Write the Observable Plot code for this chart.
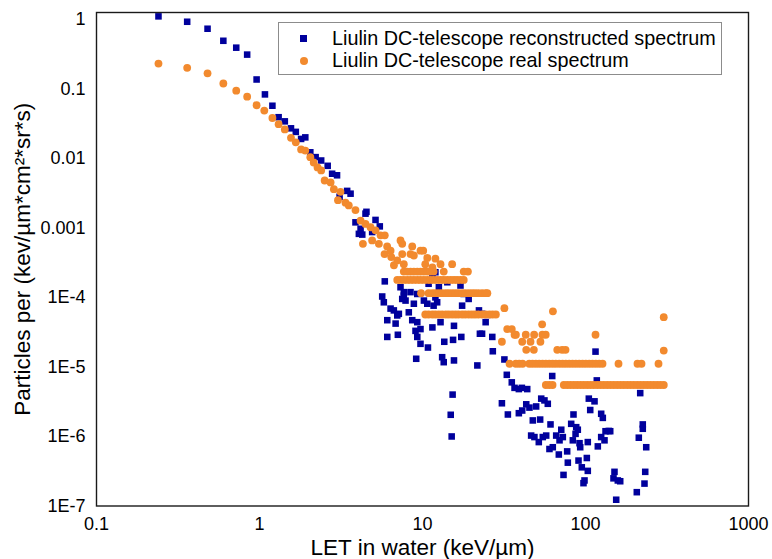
<!DOCTYPE html>
<html><head><meta charset="utf-8">
<script src="https://cdn.jsdelivr.net/npm/d3@7"></script>
<script src="https://cdn.jsdelivr.net/npm/@observablehq/plot@0.6"></script>
<style>
body{margin:0;background:#fff;font-family:"Liberation Sans",Arial,sans-serif;}
#wrap{position:relative;width:772px;height:559px;}
#legend{position:absolute;left:278px;top:22px;width:444px;height:53px;border:1px solid #8c8c8c;background:#fff;box-sizing:border-box;}
.item{position:absolute;left:53px;font-size:19.8px;line-height:22px;color:#000;white-space:nowrap;}
.mk{position:absolute;}
</style>
</head><body>
<div id="wrap"></div>
<script>
// Series names
const seriesNames = ["Liulin DC-telescope reconstructed spectrum", "Liulin DC-telescope real spectrum"];
const seriesColors = ["#00009c", "#f28a2e"];
const xTitle = "LET in water (keV/µm)";
const yTitle = "Particles per (kev/µm*cm²*sr*s)";
const xTicks = [0.1, 1, 10, 100, 1000];
const xTickLabels = ["0.1", "1", "10", "100", "1000"];
const yTicks = [1e-7, 1e-6, 1e-5, 1e-4, 1e-3, 1e-2, 1e-1, 1];
const yTickLabels = ["1E-7", "1E-6", "1E-5", "1E-4", "0.001", "0.01", "0.1", "1"];

// Reconstructed spectrum: [LET keV/µm, flux]
const reconstructed = [
[0.24,1.10],[0.36,0.92],[0.48,0.73],[0.60,0.49],[0.72,0.39],[0.84,0.31],[0.96,0.136],[1.08,0.083],
[1.20,0.057],[1.31,0.039],[1.43,0.034],[1.56,0.027],[1.67,0.024],[1.80,0.019],[1.91,0.020],[2.05,0.0122],
[2.21,0.0104],[2.39,0.0093],[2.62,0.0078],[2.79,0.0060],[2.99,0.0057],[3.10,0.0028],[3.45,0.0034],[3.62,0.0031],
[3.88,0.0012],[4.07,0.00082],[4.17,0.00097],[4.27,0.0008],[4.47,0.0016],[4.53,0.0017],[4.91,0.00087],[5.15,0.0013],[5.47,0.00105],
[5.66,1.03e-4],[5.79,8.5e-5],[5.87,1.7e-4],[6.08,4.7e-5],[6.08,2.7e-5],[6.37,6.9e-5],[6.67,6.5e-5],[6.84,4.2e-5],
[7.0,5.5e-5],[7.06,2.9e-5],[7.16,5.8e-5],[7.33,1.4e-4],[7.51,9.5e-5],[7.68,1.19e-4],[7.68,1.06e-4],[7.87,9.0e-5],
[8.24,6.1e-5],[8.44,1.19e-4],[8.65,4.7e-5],[8.85,8.1e-5],[9.06,3.3e-5],[9.15,1.31e-5],[9.29,1.12e-4],[9.29,4.4e-5],
[9.29,2.7e-5],[9.72,3.5e-5],[9.72,2.15e-5],[10.2,9.0e-5],[10.7,8.1e-5],[10.8,1.9e-5],[10.9,1.57e-4],[11.5,1.95e-4],
[11.5,3.7e-5],[11.7,7.6e-5],[12.0,2.3e-4],[12.0,1.0e-4],[12.3,8.5e-5],[12.6,1.4e-4],[12.9,4.4e-5],[13.2,1.38e-5],
[13.5,1.17e-5],[13.6,2.3e-5],[14.2,1.65e-4],[14.9,2.05e-6],[15.1,1.0e-6],[15.3,4.0e-6],[15.4,2.45e-5],[15.6,3.9e-5],
[15.6,1.24e-5],[17.1,1.48e-4],[17.3,2.7e-5],[17.5,7.6e-5],[17.9,1.12e-4],[19.2,9.5e-5],[21.7,1.05e-5],[22.2,6.5e-5],
[22.5,3.0e-5],[23.2,5.8e-5],[23.2,3.0e-5],[24.4,4.4e-5],[25.0,5.6e-5],[26.1,5.7e-5],[26.8,2.7e-5],[27.0,1.68e-5],
[30.7,3.0e-6],[31.8,1.28e-5],[32.9,7.7e-6],[33.4,2.07e-6],[35.3,6.0e-6],[36.7,5.0e-6],[39.0,4.8e-6],[39.0,2.16e-6],
[40.7,5.0e-6],[40.9,2.36e-6],[43.3,2.9e-6],[43.9,4.8e-6],[45.3,2.6e-6],[46.4,1.03e-6],[47.5,1.7e-6],[48.6,9.8e-7],
[49.8,2.7e-6],[51.7,8.3e-7],[52.7,1.75e-6],[53.5,3.5e-6],[54.7,9.8e-7],[56.0,3.3e-6],[57.4,1.03e-6],[58.7,2.95e-6],
[60.1,6.6e-7],[61.0,1.49e-6],[62.5,7.4e-6],[63.0,7.0e-7],[66.1,1.03e-6],[68.6,5.5e-7],[69.3,8.8e-7],[71.0,1.25e-6],
[72.6,9.8e-7],[73.3,2.8e-7],[77.2,6.1e-7],[77.9,4.2e-7],[81.7,1.52e-6],[83.6,8.8e-7],[84.4,2.07e-6],[86.9,1.09e-6],
[87.7,1.36e-6],[89.7,1.25e-6],[90.6,4.5e-7],[91.9,8.0e-7],[92.8,7.0e-7],[94.9,3.6e-7],[97.2,2.13e-7],[98.6,2.33e-7],
[101.9,4.9e-7],[103.3,8.3e-7],[103.3,3.2e-7],[104.8,3.5e-6],[106.9,2.4e-6],[113.6,3.2e-6],[115.2,1.66e-5],[117.3,6.4e-6],
[119.0,7.2e-7],[124.8,2.12e-6],[124.8,9.8e-7],[127.7,1.85e-6],[130.8,8.8e-7],[132.7,1.19e-6],[139,1.2e-6],[141.8,1.19e-6],
[148.5,2.5e-7],[150.6,3.1e-7],[154.3,1.23e-7],[157.8,2.33e-7],[163.3,2.27e-7],[206.4,1.58e-7],[212.3,9.6e-7],[216.6,4.2e-6],
[224.6,1.49e-6],[224.6,1.29e-6],[230.1,2.1e-7],[232.5,3.1e-7],[235.8,7.0e-7]
];

// Real spectrum, scattered points: [LET, flux]
const realPoints = [
[0.24,0.23],[0.36,0.20],[0.48,0.167],[0.60,0.119],[0.72,0.094],[0.84,0.077],[0.96,0.058],[1.07,0.0486],
[1.20,0.038],[1.31,0.031],[1.43,0.026],[1.56,0.0197],[1.67,0.017],[1.80,0.0134],[1.91,0.0129],[2.05,0.0104],
[2.15,0.0087],[2.27,0.0074],[2.39,0.0067],[2.51,0.0048],[2.73,0.0045],[2.86,0.0036],[3.03,0.0025],[3.14,0.0033],
[3.37,0.0023],[3.53,0.0021],[3.88,0.0018],[4.17,0.00127],[4.31,0.00059],[4.47,0.00114],[4.80,0.00102],[4.91,0.00066],
[5.15,0.00092],[5.40,0.00059],[5.53,0.00078],[5.85,0.00042],[5.87,0.00078],[6.07,0.00054],[6.37,0.00047],[6.43,0.00038],
[6.68,0.00029],[7.0,0.00034],[7.33,0.00066],[7.51,0.00059],[7.51,0.00042],[7.68,0.0003],[8.44,0.00042],[8.65,0.00054],
[8.85,0.0004],[9.72,0.00047],[10.1,0.00047],[10.4,0.0003],[10.7,0.00037],[11.5,0.00027],[12.0,0.00036],[12.9,0.0003],
[15.2,0.0003],[9.8,1.15e-4],
[31.8,7.0e-5],[33.1,3.5e-5],[35.3,3.5e-5],[36.7,2.9e-5],[37.4,2.9e-5],[43.0,2.9e-5],[48.4,2.9e-5],[54.4,2.9e-5],
[57.0,2.9e-5],[115.2,2.9e-5],[30.7,2.3e-5],[40.9,2.3e-5],[46.0,2.3e-5],[52.9,2.3e-5],[43.3,1.76e-5],[48.2,1.76e-5],
[67.1,1.76e-5],[71.9,1.76e-5],[75.4,1.76e-5],[54.2,4.1e-5],[63.1,6.3e-5],[302,5.2e-5],[302,1.72e-5]
];

// Real spectrum, quantized rows (same flux level over many LET channels)
const realRowFlux = [2.35e-4, 1.78e-4, 1.15e-4, 5.67e-5, 1.11e-5, 5.5e-6];
const realRowLET = [
[7.68,8.07,8.44,8.85,9.29,9.72,10.2,10.7,11.2,11.7,13.5,17.9,19.0],
[7.0,7.33,7.68,8.07,8.44,8.85,9.29,9.72,10.2,10.7,11.2,11.7,12.3,12.9,13.5,14.2,14.9,15.6,16.3,17.1,17.9],
[10.9,11.5,12.0,12.6,13.2,13.9,14.5,15.2,15.9,16.6,17.5,18.3,19.2,20.1,21.0,22.0,23.2,24.4,25.0],
[10.4,10.9,11.5,12.0,12.6,13.2,13.9,14.5,15.2,15.9,16.6,17.5,18.3,19.2,20.1,21.0,22.0,23.2,24.4,25.7,26.9,28.2],
[34.2,37.4,39.2,41.1,45.2,47.3,49.6,52.0,54.5,57.1,59.9,62.8,65.7,69.0,72.3,75.7,79.4,83.2,87.2,91.5,95.9,100.4,105.4,110.4,115.7,121.4,127.2,159.4,208.4,220.6,280.5],
[57.1,59.9,62.8,73.6,77.2,80.9,84.8,88.9,93.2,97.6,102.4,107.3,112.4,118.0,123.6,129.5,135.9,142.4,149.2,156.5,164.0,171.8,180.3,188.9,197.9,207.6,217.5,228.0,239.1,250.5,262.4,275.4,288.5,302.2]
];

const reconData = reconstructed.map(([let_, flux]) => ({let: let_, flux}));
const realData = realPoints.map(([let_, flux]) => ({let: let_, flux}))
  .concat(realRowLET.flatMap((row, i) => row.map(v => ({let: v, flux: realRowFlux[i]}))));

const xLab = new Map(xTicks.map((t, i) => [t, xTickLabels[i]]));
const yLab = new Map(yTicks.map((t, i) => [t, yTickLabels[i]]));
const font = '"Liberation Sans", Arial, sans-serif';

const chart = Plot.plot({
  width: 772, height: 559,
  marginLeft: 96, marginRight: 24, marginTop: 12, marginBottom: 53.5,
  x: {type: "log", domain: [0.1, 1000], axis: null},
  y: {type: "log", domain: [1e-7, 1.25], axis: null},
  style: {fontFamily: font, background: "white", color: "#000"},
  marks: [
    Plot.axisX(xTicks, {tickSize: 0, tickPadding: 11, tickFormat: d => xLab.get(d), fontSize: 18, label: null}),
    Plot.axisY(yTicks, {tickSize: 0, tickPadding: 11, tickFormat: d => yLab.get(d), fontSize: 18, label: null}),
    Plot.dot(reconData, {x: "let", y: "flux", symbol: "square", r: 3.7, fill: seriesColors[0], stroke: "none"}),
    Plot.dot(realData, {x: "let", y: "flux", r: 3.9, fill: seriesColors[1], stroke: "none"}),
    Plot.frame({stroke: "#1a1a1a", strokeWidth: 1.4}),
    Plot.text([xTitle], {frameAnchor: "bottom", dy: 41.5, textAnchor: "middle", lineAnchor: "middle", fontSize: 22.5, fill: "#000"}),
    Plot.text([yTitle], {frameAnchor: "left", dx: -74, rotate: -90, textAnchor: "middle", lineAnchor: "middle", fontSize: 22.5, fill: "#000"})
  ]
});

const wrap = document.getElementById("wrap");
wrap.appendChild(chart);
const legend = document.createElement("div");
legend.id = "legend";
legend.innerHTML =
  `<div class="mk" style="left:21px;top:12px;width:7px;height:7px;background:${seriesColors[0]}"></div>` +
  `<div class="item" style="top:4px">${seriesNames[0]}</div>` +
  `<div class="mk" style="left:21px;top:34px;width:8px;height:8px;border-radius:50%;background:${seriesColors[1]}"></div>` +
  `<div class="item" style="top:26px">${seriesNames[1]}</div>`;
wrap.appendChild(legend);
</script>
</body></html>
